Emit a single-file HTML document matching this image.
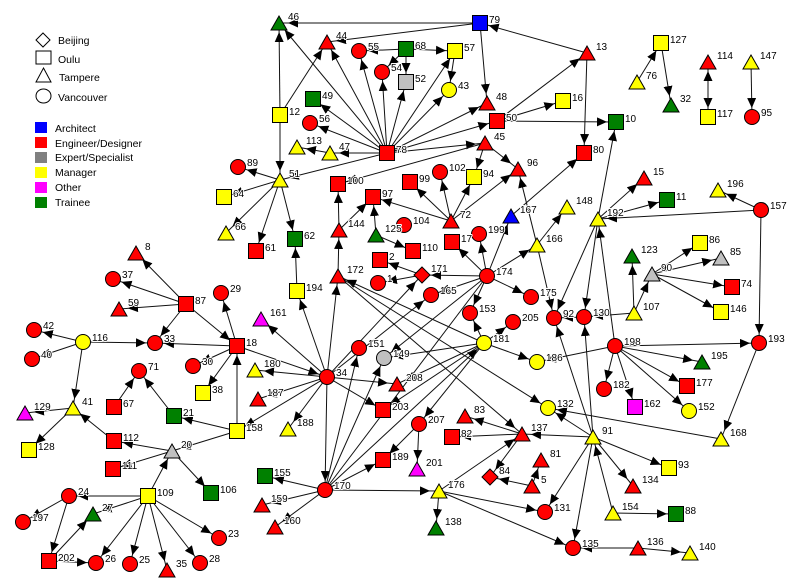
<!DOCTYPE html>
<html><head><meta charset="utf-8"><style>
html,body{margin:0;padding:0;background:#fff}
svg{display:block}
text{font-family:"Liberation Sans",Arial,sans-serif}
</style></head><body>
<svg width="800" height="581" viewBox="0 0 800 581" xmlns="http://www.w3.org/2000/svg">
<defs>
<marker id="a" markerUnits="userSpaceOnUse" markerWidth="22" markerHeight="10" viewBox="0 0 22 10" refX="19" refY="4.5" orient="auto"><path d="M0,0 L10,4.5 L0,9 z" fill="#000" stroke="none"/></marker>
<polygon id="t" points="0,-7 8,7 -8,7"/>
<rect id="s" x="-7.5" y="-7.5" width="15" height="15"/>
<circle id="c" r="7.5"/>
<polygon id="d" points="0,-8 8,0 0,8 -8,0"/>
</defs>
<rect width="800" height="581" fill="#fff"/>

<!-- legend -->
<g stroke="#000" stroke-width="1" fill="#fff">
<polygon points="43,33 50,40 43,47 36,40"/>
<rect x="36" y="51" width="15" height="13"/>
<polygon points="43.5,68 51,82 36,82"/>
<ellipse cx="43.5" cy="96" rx="7.5" ry="7"/>
</g>
<g font-size="10.5" fill="#000">
<text x="58" y="44">Beijing</text>
<text x="58" y="63">Oulu</text>
<text x="59" y="81">Tampere</text>
<text x="58" y="101">Vancouver</text>
</g>
<g>
<rect x="35" y="122" width="12" height="11" fill="#0000ff"/>
<rect x="35" y="137" width="12" height="11" fill="#ff0000"/>
<rect x="35" y="152" width="12" height="11" fill="#808080"/>
<rect x="35" y="167" width="12" height="11" fill="#ffff00"/>
<rect x="35" y="182" width="12" height="11" fill="#ff00ff"/>
<rect x="35" y="197" width="12" height="11" fill="#008000"/>
</g>
<g font-size="10.5" fill="#000">
<text x="55" y="132">Architect</text>
<text x="55" y="147">Engineer/Designer</text>
<text x="55" y="161">Expert/Specialist</text>
<text x="55" y="176">Manager</text>
<text x="55" y="191">Other</text>
<text x="55" y="206">Trainee</text>
</g>

<!-- edges -->
<g stroke="#111" stroke-width="1" fill="none">
<path d="M325 490L487 276"/>
</g>
<g stroke="#111" stroke-width="1" fill="none" marker-end="url(#a)">
<path d="M280 115L279 23"/>
<path d="M280 115L280 180"/>
<path d="M280 115L327 42"/>
<path d="M480 23L279 23"/>
<path d="M387 153L279 23"/>
<path d="M480 23L327 42"/>
<path d="M387 153L327 42"/>
<path d="M387 153L359 51"/>
<path d="M406 49L359 51"/>
<path d="M406 49L382 72"/>
<path d="M406 49L406 82"/>
<path d="M406 49L455 51"/>
<path d="M387 153L382 72"/>
<path d="M387 153L406 82"/>
<path d="M387 153L455 51"/>
<path d="M387 153L449 90"/>
<path d="M455 51L449 90"/>
<path d="M480 23L487 103"/>
<path d="M387 153L487 103"/>
<path d="M387 153L497 121"/>
<path d="M387 153L485 143"/>
<path d="M387 153L313 99"/>
<path d="M387 153L310 123"/>
<path d="M387 153L330 153"/>
<path d="M330 153L297 147"/>
<path d="M387 153L280 180"/>
<path d="M587 53L480 23"/>
<path d="M497 121L587 53"/>
<path d="M497 121L563 101"/>
<path d="M497 121L616 122"/>
<path d="M587 53L584 153"/>
<path d="M637 82L661 43"/>
<path d="M661 43L671 105"/>
<path d="M708 62L708 117"/>
<path d="M708 117L708 62"/>
<path d="M751 62L752 117"/>
<path d="M485 143L518 169"/>
<path d="M485 143L474 177"/>
<path d="M485 143L338 184"/>
<path d="M451 221L518 169"/>
<path d="M537 245L518 169"/>
<path d="M511 216L584 153"/>
<path d="M451 221L373 197"/>
<path d="M451 221L410 182"/>
<path d="M451 221L440 172"/>
<path d="M451 221L474 177"/>
<path d="M339 230L338 184"/>
<path d="M339 230L373 197"/>
<path d="M376 235L373 197"/>
<path d="M376 235L413 251"/>
<path d="M338 276L339 230"/>
<path d="M487 276L452 242"/>
<path d="M487 276L479 234"/>
<path d="M487 276L511 216"/>
<path d="M487 276L537 245"/>
<path d="M487 276L422 275"/>
<path d="M422 275L380 260"/>
<path d="M422 275L378 283"/>
<path d="M487 276L431 295"/>
<path d="M487 276L470 313"/>
<path d="M487 276L531 297"/>
<path d="M487 276L384 358"/>
<path d="M327 377L422 275"/>
<path d="M327 377L431 295"/>
<path d="M327 377L297 291"/>
<path d="M327 377L261 319"/>
<path d="M327 377L338 276"/>
<path d="M237 346L327 377"/>
<path d="M327 377L255 370"/>
<path d="M327 377L258 399"/>
<path d="M327 377L237 431"/>
<path d="M327 377L288 429"/>
<path d="M327 377L397 384"/>
<path d="M327 377L383 410"/>
<path d="M327 377L325 490"/>
<path d="M325 490L359 348"/>
<path d="M325 490L384 358"/>
<path d="M325 490L484 343"/>
<path d="M484 343L384 358"/>
<path d="M484 343L397 384"/>
<path d="M484 343L383 410"/>
<path d="M484 343L470 313"/>
<path d="M484 343L513 322"/>
<path d="M484 343L537 362"/>
<path d="M484 343L419 424"/>
<path d="M484 343L338 276"/>
<path d="M338 276L548 408"/>
<path d="M338 276L522 434"/>
<path d="M615 346L537 362"/>
<path d="M615 346L759 343"/>
<path d="M615 346L702 362"/>
<path d="M615 346L687 386"/>
<path d="M615 346L689 411"/>
<path d="M615 346L604 389"/>
<path d="M615 346L635 407"/>
<path d="M615 346L598 219"/>
<path d="M598 219L554 318"/>
<path d="M598 219L584 317"/>
<path d="M598 219L616 122"/>
<path d="M598 219L644 178"/>
<path d="M598 219L667 200"/>
<path d="M761 210L598 219"/>
<path d="M761 210L718 190"/>
<path d="M761 210L759 343"/>
<path d="M634 313L584 317"/>
<path d="M634 313L632 256"/>
<path d="M634 313L652 274"/>
<path d="M652 274L700 243"/>
<path d="M652 274L721 258"/>
<path d="M652 274L732 287"/>
<path d="M652 274L721 312"/>
<path d="M537 245L567 207"/>
<path d="M537 245L554 318"/>
<path d="M584 317L554 318"/>
<path d="M593 437L554 318"/>
<path d="M593 437L584 317"/>
<path d="M593 437L548 408"/>
<path d="M721 439L548 408"/>
<path d="M759 343L721 439"/>
<path d="M593 437L522 434"/>
<path d="M593 437L669 468"/>
<path d="M593 437L633 486"/>
<path d="M593 437L545 512"/>
<path d="M593 437L573 548"/>
<path d="M613 513L593 437"/>
<path d="M613 513L676 514"/>
<path d="M638 548L573 548"/>
<path d="M638 548L690 553"/>
<path d="M439 491L573 548"/>
<path d="M439 491L545 512"/>
<path d="M532 486L541 460"/>
<path d="M532 486L490 477"/>
<path d="M522 434L490 477"/>
<path d="M439 491L522 434"/>
<path d="M522 434L465 416"/>
<path d="M522 434L452 437"/>
<path d="M186 304L136 253"/>
<path d="M186 304L113 279"/>
<path d="M186 304L119 309"/>
<path d="M186 304L155 343"/>
<path d="M186 304L237 346"/>
<path d="M237 346L221 293"/>
<path d="M237 346L155 343"/>
<path d="M237 346L193 366"/>
<path d="M237 346L203 393"/>
<path d="M237 431L237 346"/>
<path d="M83 342L34 330"/>
<path d="M83 342L32 359"/>
<path d="M83 342L155 343"/>
<path d="M83 342L73 408"/>
<path d="M73 408L25 413"/>
<path d="M73 408L29 450"/>
<path d="M114 441L73 408"/>
<path d="M172 451L114 441"/>
<path d="M172 451L113 469"/>
<path d="M237 431L172 451"/>
<path d="M237 431L174 416"/>
<path d="M174 416L139 371"/>
<path d="M114 407L139 371"/>
<path d="M172 451L211 493"/>
<path d="M148 496L172 451"/>
<path d="M148 496L69 496"/>
<path d="M148 496L93 514"/>
<path d="M148 496L96 563"/>
<path d="M148 496L130 564"/>
<path d="M148 496L167 570"/>
<path d="M148 496L200 563"/>
<path d="M148 496L219 538"/>
<path d="M69 496L49 561"/>
<path d="M69 496L23 522"/>
<path d="M49 561L93 514"/>
<path d="M49 561L96 563"/>
<path d="M280 180L238 167"/>
<path d="M280 180L224 197"/>
<path d="M280 180L226 233"/>
<path d="M280 180L256 251"/>
<path d="M280 180L295 239"/>
<path d="M297 291L295 239"/>
<path d="M325 490L265 476"/>
<path d="M325 490L262 505"/>
<path d="M325 490L275 527"/>
<path d="M325 490L383 460"/>
<path d="M325 490L439 491"/>
<path d="M419 424L417 469"/>
<path d="M419 424L383 460"/>
<path d="M439 491L436 528"/>
</g>

<!-- nodes -->
<g stroke="#000" stroke-width="1">
<!-- triangles -->
<use href="#t" x="279" y="23" fill="#008000"/>
<use href="#t" x="327" y="42" fill="#ff0000"/>
<use href="#t" x="587" y="53" fill="#ff0000"/>
<use href="#t" x="708" y="62" fill="#ff0000"/>
<use href="#t" x="751" y="62" fill="#ffff00"/>
<use href="#t" x="637" y="82" fill="#ffff00"/>
<use href="#t" x="671" y="105" fill="#008000"/>
<use href="#t" x="487" y="103" fill="#ff0000"/>
<use href="#t" x="297" y="147" fill="#ffff00"/>
<use href="#t" x="330" y="153" fill="#ffff00"/>
<use href="#t" x="485" y="143" fill="#ff0000"/>
<use href="#t" x="518" y="169" fill="#ff0000"/>
<use href="#t" x="280" y="180" fill="#ffff00"/>
<use href="#t" x="226" y="233" fill="#ffff00"/>
<use href="#t" x="451" y="221" fill="#ff0000"/>
<use href="#t" x="339" y="230" fill="#ff0000"/>
<use href="#t" x="376" y="235" fill="#008000"/>
<use href="#t" x="511" y="216" fill="#0000ff"/>
<use href="#t" x="567" y="207" fill="#ffff00"/>
<use href="#t" x="537" y="245" fill="#ffff00"/>
<use href="#t" x="598" y="219" fill="#ffff00"/>
<use href="#t" x="644" y="178" fill="#ff0000"/>
<use href="#t" x="718" y="190" fill="#ffff00"/>
<use href="#t" x="632" y="256" fill="#008000"/>
<use href="#t" x="721" y="258" fill="#c0c0c0"/>
<use href="#t" x="652" y="274" fill="#c0c0c0"/>
<use href="#t" x="634" y="313" fill="#ffff00"/>
<use href="#t" x="338" y="276" fill="#ff0000"/>
<use href="#t" x="261" y="319" fill="#ff00ff"/>
<use href="#t" x="136" y="253" fill="#ff0000"/>
<use href="#t" x="119" y="309" fill="#ff0000"/>
<use href="#t" x="255" y="370" fill="#ffff00"/>
<use href="#t" x="258" y="399" fill="#ff0000"/>
<use href="#t" x="288" y="429" fill="#ffff00"/>
<use href="#t" x="702" y="362" fill="#008000"/>
<use href="#t" x="721" y="439" fill="#ffff00"/>
<use href="#t" x="593" y="437" fill="#ffff00"/>
<use href="#t" x="522" y="434" fill="#ff0000"/>
<use href="#t" x="465" y="416" fill="#ff0000"/>
<use href="#t" x="541" y="460" fill="#ff0000"/>
<use href="#t" x="532" y="486" fill="#ff0000"/>
<use href="#t" x="633" y="486" fill="#ff0000"/>
<use href="#t" x="613" y="513" fill="#ffff00"/>
<use href="#t" x="638" y="548" fill="#ff0000"/>
<use href="#t" x="690" y="553" fill="#ffff00"/>
<use href="#t" x="439" y="491" fill="#ffff00"/>
<use href="#t" x="436" y="528" fill="#008000"/>
<use href="#t" x="417" y="469" fill="#ff00ff"/>
<use href="#t" x="397" y="384" fill="#ff0000"/>
<use href="#t" x="262" y="505" fill="#ff0000"/>
<use href="#t" x="275" y="527" fill="#ff0000"/>
<use href="#t" x="25" y="413" fill="#ff00ff"/>
<use href="#t" x="73" y="408" fill="#ffff00"/>
<use href="#t" x="172" y="451" fill="#c0c0c0"/>
<use href="#t" x="93" y="514" fill="#008000"/>
<use href="#t" x="167" y="570" fill="#ff0000"/>
<!-- squares -->
<use href="#s" x="480" y="23" fill="#0000ff"/>
<use href="#s" x="406" y="49" fill="#008000"/>
<use href="#s" x="455" y="51" fill="#ffff00"/>
<use href="#s" x="406" y="82" fill="#c0c0c0"/>
<use href="#s" x="661" y="43" fill="#ffff00"/>
<use href="#s" x="708" y="117" fill="#ffff00"/>
<use href="#s" x="313" y="99" fill="#008000"/>
<use href="#s" x="280" y="115" fill="#ffff00"/>
<use href="#s" x="497" y="121" fill="#ff0000"/>
<use href="#s" x="563" y="101" fill="#ffff00"/>
<use href="#s" x="616" y="122" fill="#008000"/>
<use href="#s" x="387" y="153" fill="#ff0000"/>
<use href="#s" x="584" y="153" fill="#ff0000"/>
<use href="#s" x="224" y="197" fill="#ffff00"/>
<use href="#s" x="256" y="251" fill="#ff0000"/>
<use href="#s" x="295" y="239" fill="#008000"/>
<use href="#s" x="338" y="184" fill="#ff0000"/>
<use href="#s" x="474" y="177" fill="#ffff00"/>
<use href="#s" x="410" y="182" fill="#ff0000"/>
<use href="#s" x="373" y="197" fill="#ff0000"/>
<use href="#s" x="413" y="251" fill="#ff0000"/>
<use href="#s" x="452" y="242" fill="#ff0000"/>
<use href="#s" x="380" y="260" fill="#ff0000"/>
<use href="#s" x="667" y="200" fill="#008000"/>
<use href="#s" x="700" y="243" fill="#ffff00"/>
<use href="#s" x="732" y="287" fill="#ff0000"/>
<use href="#s" x="721" y="312" fill="#ffff00"/>
<use href="#s" x="297" y="291" fill="#ffff00"/>
<use href="#s" x="237" y="346" fill="#ff0000"/>
<use href="#s" x="186" y="304" fill="#ff0000"/>
<use href="#s" x="203" y="393" fill="#ffff00"/>
<use href="#s" x="687" y="386" fill="#ff0000"/>
<use href="#s" x="635" y="407" fill="#ff00ff"/>
<use href="#s" x="452" y="437" fill="#ff0000"/>
<use href="#s" x="669" y="468" fill="#ffff00"/>
<use href="#s" x="676" y="514" fill="#008000"/>
<use href="#s" x="383" y="460" fill="#ff0000"/>
<use href="#s" x="383" y="410" fill="#ff0000"/>
<use href="#s" x="265" y="476" fill="#008000"/>
<use href="#s" x="114" y="407" fill="#ff0000"/>
<use href="#s" x="174" y="416" fill="#008000"/>
<use href="#s" x="237" y="431" fill="#ffff00"/>
<use href="#s" x="29" y="450" fill="#ffff00"/>
<use href="#s" x="114" y="441" fill="#ff0000"/>
<use href="#s" x="113" y="469" fill="#ff0000"/>
<use href="#s" x="211" y="493" fill="#008000"/>
<use href="#s" x="148" y="496" fill="#ffff00"/>
<use href="#s" x="49" y="561" fill="#ff0000"/>
<!-- circles -->
<use href="#c" x="359" y="51" fill="#ff0000"/>
<use href="#c" x="382" y="72" fill="#ff0000"/>
<use href="#c" x="449" y="90" fill="#ffff00"/>
<use href="#c" x="752" y="117" fill="#ff0000"/>
<use href="#c" x="310" y="123" fill="#ff0000"/>
<use href="#c" x="238" y="167" fill="#ff0000"/>
<use href="#c" x="440" y="172" fill="#ff0000"/>
<use href="#c" x="404" y="225" fill="#ff0000"/>
<use href="#c" x="479" y="234" fill="#ff0000"/>
<use href="#c" x="378" y="283" fill="#ff0000"/>
<use href="#c" x="487" y="276" fill="#ff0000"/>
<use href="#c" x="431" y="295" fill="#ff0000"/>
<use href="#c" x="761" y="210" fill="#ff0000"/>
<use href="#c" x="584" y="317" fill="#ff0000"/>
<use href="#c" x="554" y="318" fill="#ff0000"/>
<use href="#c" x="531" y="297" fill="#ff0000"/>
<use href="#c" x="513" y="322" fill="#ff0000"/>
<use href="#c" x="470" y="313" fill="#ff0000"/>
<use href="#c" x="221" y="293" fill="#ff0000"/>
<use href="#c" x="113" y="279" fill="#ff0000"/>
<use href="#c" x="155" y="343" fill="#ff0000"/>
<use href="#c" x="83" y="342" fill="#ffff00"/>
<use href="#c" x="34" y="330" fill="#ff0000"/>
<use href="#c" x="32" y="359" fill="#ff0000"/>
<use href="#c" x="193" y="366" fill="#ff0000"/>
<use href="#c" x="139" y="371" fill="#ff0000"/>
<use href="#c" x="327" y="377" fill="#ff0000"/>
<use href="#c" x="359" y="348" fill="#ff0000"/>
<use href="#c" x="384" y="358" fill="#c0c0c0"/>
<use href="#c" x="484" y="343" fill="#ffff00"/>
<use href="#c" x="537" y="362" fill="#ffff00"/>
<use href="#c" x="615" y="346" fill="#ff0000"/>
<use href="#c" x="759" y="343" fill="#ff0000"/>
<use href="#c" x="604" y="389" fill="#ff0000"/>
<use href="#c" x="689" y="411" fill="#ffff00"/>
<use href="#c" x="548" y="408" fill="#ffff00"/>
<use href="#c" x="545" y="512" fill="#ff0000"/>
<use href="#c" x="573" y="548" fill="#ff0000"/>
<use href="#c" x="419" y="424" fill="#ff0000"/>
<use href="#c" x="325" y="490" fill="#ff0000"/>
<use href="#c" x="69" y="496" fill="#ff0000"/>
<use href="#c" x="23" y="522" fill="#ff0000"/>
<use href="#c" x="219" y="538" fill="#ff0000"/>
<use href="#c" x="96" y="563" fill="#ff0000"/>
<use href="#c" x="130" y="564" fill="#ff0000"/>
<use href="#c" x="200" y="563" fill="#ff0000"/>
<!-- diamonds -->
<use href="#d" x="422" y="275" fill="#ff0000"/>
<use href="#d" x="490" y="477" fill="#ff0000"/>
</g>

<!-- labels -->
<g font-size="10" fill="#000" stroke="#fff" stroke-width="2" paint-order="stroke" stroke-linejoin="round">
<text x="288" y="20">46</text>
<text x="336" y="39">44</text>
<text x="596" y="50">13</text>
<text x="717" y="59">114</text>
<text x="760" y="59">147</text>
<text x="646" y="79">76</text>
<text x="680" y="102">32</text>
<text x="496" y="100">48</text>
<text x="306" y="144">113</text>
<text x="339" y="150">47</text>
<text x="494" y="140">45</text>
<text x="527" y="166">96</text>
<text x="289" y="177">51</text>
<text x="235" y="230">66</text>
<text x="460" y="218">72</text>
<text x="348" y="227">144</text>
<text x="385" y="232">125</text>
<text x="520" y="213">167</text>
<text x="576" y="204">148</text>
<text x="546" y="242">166</text>
<text x="607" y="216">192</text>
<text x="653" y="175">15</text>
<text x="727" y="187">196</text>
<text x="641" y="253">123</text>
<text x="730" y="255">85</text>
<text x="661" y="271">90</text>
<text x="643" y="310">107</text>
<text x="347" y="273">172</text>
<text x="270" y="316">161</text>
<text x="145" y="250">8</text>
<text x="128" y="306">59</text>
<text x="264" y="367">180</text>
<text x="267" y="396">187</text>
<text x="297" y="426">188</text>
<text x="711" y="359">195</text>
<text x="730" y="436">168</text>
<text x="602" y="434">91</text>
<text x="531" y="431">137</text>
<text x="474" y="413">83</text>
<text x="550" y="457">81</text>
<text x="541" y="483">5</text>
<text x="642" y="483">134</text>
<text x="622" y="510">154</text>
<text x="647" y="545">136</text>
<text x="699" y="550">140</text>
<text x="448" y="488">176</text>
<text x="445" y="525">138</text>
<text x="426" y="466">201</text>
<text x="406" y="381">208</text>
<text x="271" y="502">159</text>
<text x="284" y="524">160</text>
<text x="34" y="410">129</text>
<text x="82" y="405">41</text>
<text x="181" y="448">20</text>
<text x="102" y="511">27</text>
<text x="176" y="567">35</text>

<text x="489" y="23">79</text>
<text x="415" y="49">68</text>
<text x="464" y="51">57</text>
<text x="415" y="82">52</text>
<text x="670" y="43">127</text>
<text x="717" y="117">117</text>
<text x="322" y="99">49</text>
<text x="289" y="115">12</text>
<text x="506" y="121">50</text>
<text x="572" y="101">16</text>
<text x="625" y="122">10</text>
<text x="396" y="153">78</text>
<text x="593" y="153">80</text>
<text x="233" y="197">64</text>
<text x="265" y="251">61</text>
<text x="304" y="239">62</text>
<text x="347" y="184">100</text>
<text x="483" y="177">94</text>
<text x="419" y="182">99</text>
<text x="382" y="197">97</text>
<text x="422" y="251">110</text>
<text x="461" y="242">17</text>
<text x="389" y="260">2</text>
<text x="676" y="200">11</text>
<text x="709" y="243">86</text>
<text x="741" y="287">74</text>
<text x="730" y="312">146</text>
<text x="306" y="291">194</text>
<text x="246" y="346">18</text>
<text x="195" y="304">87</text>
<text x="212" y="393">38</text>
<text x="696" y="386">177</text>
<text x="644" y="407">162</text>
<text x="461" y="437">82</text>
<text x="678" y="468">93</text>
<text x="685" y="514">88</text>
<text x="392" y="460">189</text>
<text x="392" y="410">203</text>
<text x="274" y="476">155</text>
<text x="123" y="407">67</text>
<text x="183" y="416">21</text>
<text x="246" y="431">158</text>
<text x="38" y="450">128</text>
<text x="123" y="441">112</text>
<text x="122" y="469">111</text>
<text x="220" y="493">106</text>
<text x="157" y="496">109</text>
<text x="58" y="561">202</text>

<text x="368" y="50">55</text>
<text x="391" y="71">54</text>
<text x="458" y="89">43</text>
<text x="761" y="116">95</text>
<text x="319" y="122">56</text>
<text x="247" y="166">89</text>
<text x="449" y="171">102</text>
<text x="413" y="224">104</text>
<text x="488" y="233">199</text>
<text x="387" y="282">1</text>
<text x="496" y="275">174</text>
<text x="440" y="294">165</text>
<text x="770" y="209">157</text>
<text x="593" y="316">130</text>
<text x="563" y="317">92</text>
<text x="540" y="296">175</text>
<text x="522" y="321">205</text>
<text x="479" y="312">153</text>
<text x="230" y="292">29</text>
<text x="122" y="278">37</text>
<text x="164" y="342">33</text>
<text x="92" y="341">116</text>
<text x="43" y="329">42</text>
<text x="41" y="358">40</text>
<text x="202" y="365">30</text>
<text x="148" y="370">71</text>
<text x="336" y="376">34</text>
<text x="368" y="347">151</text>
<text x="393" y="357">149</text>
<text x="493" y="342">181</text>
<text x="546" y="361">186</text>
<text x="624" y="345">198</text>
<text x="768" y="342">193</text>
<text x="613" y="388">182</text>
<text x="698" y="410">152</text>
<text x="557" y="407">132</text>
<text x="554" y="511">131</text>
<text x="582" y="547">135</text>
<text x="428" y="423">207</text>
<text x="334" y="489">170</text>
<text x="78" y="495">24</text>
<text x="32" y="521">197</text>
<text x="228" y="537">23</text>
<text x="105" y="562">26</text>
<text x="139" y="563">25</text>
<text x="209" y="562">28</text>

<text x="431" y="272">171</text>
<text x="499" y="474">84</text>
</g>
</svg>
</body></html>
